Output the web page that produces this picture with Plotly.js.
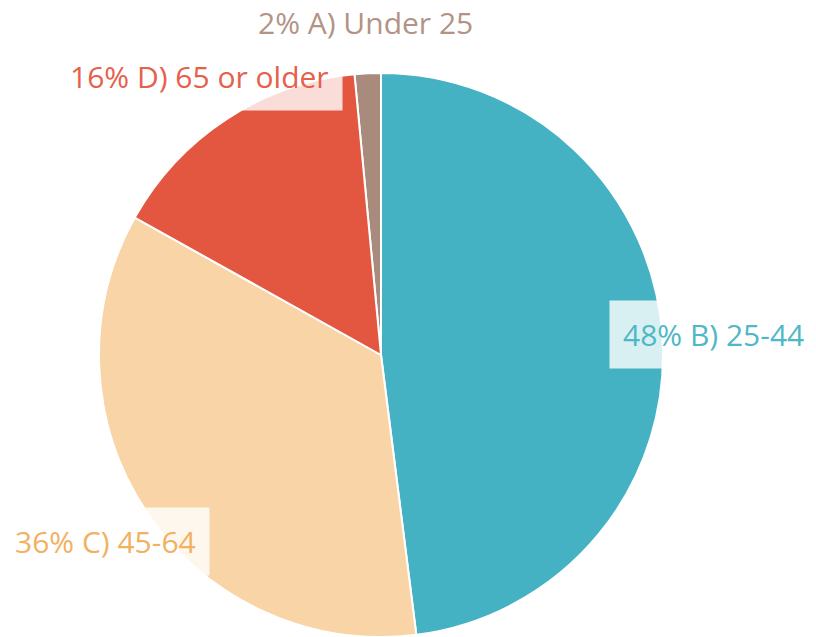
<!DOCTYPE html>
<html>
<head>
<meta charset="utf-8">
<script src="https://cdn.plot.ly/plotly-3.0.1.min.js"></script>
<style>html,body{margin:0;padding:0;background:#fff;}#chart{width:816px;height:637px;}</style>
</head>
<body>
<div id="chart"></div>
<script>
// ---- data ----
const labels = ['A) Under 25', 'B) 25-44', 'C) 45-64', 'D) 65 or older'];
const values = [1.5, 48.0, 35.1, 15.4];
const pctText = ['2%', '48%', '36%', '16%'];

// ---- styles ----
const sliceColors = ['#a98b7d', '#44b2c2', '#f8d4a6', '#e35740'];
const textColors = ['#b39385', '#4fb8c6', '#f2b161', '#e6604c'];
const W = 816, H = 637;
const M = {l: 99, r: 153, t: 73, b: 0};
const labelDist = 1.18; // label centre distance in radii

const total = values.reduce((a, b) => a + b, 0);
const rotation = -360 * values[0] / total;

// geometry of the pie in pixels (single pie fills the square plot area)
const pw = W - M.l - M.r, ph = H - M.t - M.b;
const R = Math.min(pw, ph) / 2;
const cx = M.l + pw / 2, cy = M.t + ph / 2;

const annotations = [];
let cum = 0;
values.forEach((v, i) => {
  const mid = (rotation + 360 * (cum + v / 2) / total) * Math.PI / 180;
  cum += v;
  const px = cx + labelDist * R * Math.sin(mid);
  const py = cy - labelDist * R * Math.cos(mid);
  annotations.push({
    xref: 'paper', yref: 'paper',
    x: (px - M.l) / pw, y: 1 - (py - M.t) / ph,
    xanchor: 'center', yanchor: 'middle',
    showarrow: false,
    text: pctText[i] + ' ' + labels[i],
    font: {family: 'Open Sans', size: 30, color: textColors[i]},
    bgcolor: 'rgba(255,255,255,0.8)',
    borderpad: 13
  });
});

const trace = {
  type: 'pie',
  labels: labels,
  values: values,
  sort: false,
  direction: 'clockwise',
  rotation: rotation,
  textinfo: 'none',
  hoverinfo: 'skip',
  marker: {colors: sliceColors, line: {color: '#ffffff', width: 2}}
};

const layout = {
  width: W, height: H,
  margin: M,
  showlegend: false,
  paper_bgcolor: '#ffffff',
  plot_bgcolor: '#ffffff',
  annotations: annotations
};

Plotly.newPlot('chart', [trace], layout, {displayModeBar: false, staticPlot: true});
</script>
</body>
</html>
